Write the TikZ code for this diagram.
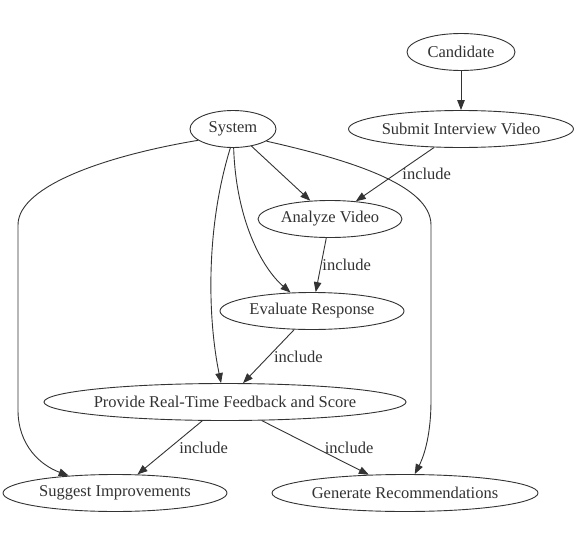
\documentclass[tikz,border=0pt]{standalone}
\usepackage{fontspec}
\setmainfont{Liberation Serif}
\usetikzlibrary{shapes.geometric,arrows.meta}
\definecolor{ink}{HTML}{333333}
\begin{document}
\begin{tikzpicture}[x=1pt,y=-1pt,
  uc/.style={ellipse,draw=ink,line width=0.9pt,inner sep=0pt,minimum height=37pt,text=ink,font=\fontsize{16.5}{18}\selectfont},
  arr/.style={draw=ink,line width=0.9pt,-{Triangle[length=10pt,width=7.5pt]}},
  lbl/.style={font=\fontsize{16.5}{18}\selectfont,text=ink,inner sep=1pt}]
\useasboundingbox[fill=white] (0,0) rectangle (579,549);
\node[uc,minimum width=108pt] (cand) at (461,52) {\makebox[0pt]{Candidate}};
\node[uc,minimum width=225pt] (sub) at (461,129) {\makebox[0pt]{Submit Interview Video}};
\node[uc,minimum width=86pt] (sys) at (233,129) {\makebox[0pt]{System}};
\node[uc,minimum width=144pt] (ana) at (330,219) {\makebox[0pt]{Analyze Video}};
\node[uc,minimum width=184pt] (eva) at (312,311) {\makebox[0pt]{Evaluate Response}};
\node[uc,minimum width=362pt] (pro) at (225,402) {\makebox[0pt]{Provide Real-Time Feedback and Score}};
\node[uc,minimum width=224pt] (sug) at (115,493) {\makebox[0pt]{Suggest Improvements}};
\node[uc,minimum width=266pt] (gen) at (405,493) {\makebox[0pt]{Generate Recommendations}};

\draw[arr] (cand) -- (sub);
\draw[arr] (sub) -- (ana) node[lbl,midway,right,xshift=6pt] {include};
\draw[arr] (sys) -- (ana);
\draw[arr] (ana) -- (eva) node[lbl,midway,right] {include};
\draw[arr] (eva) -- (pro) node[lbl,midway,right,xshift=4pt] {include};
\draw[arr] (pro) -- (sug) node[lbl,midway,right,xshift=8pt] {include};
\draw[arr] (pro) -- (gen) node[lbl,midway,right,xshift=8pt] {include};
\draw[arr] (sys.272) .. controls (236,220) and (262,268) .. (eva);
\draw[arr] (sys.262) .. controls (205,230) and (208,320) .. (pro);
\draw[arr] (sys.198) .. controls (110,155) and (18,185) .. (18,225) -- (18,410) .. controls (18,445) and (40,465) .. (sug);
\draw[arr] (sys.-20) .. controls (350,160) and (431,185) .. (431,225) -- (431,400) .. controls (431,440) and (422,460) .. (gen);
\end{tikzpicture}
\end{document}
